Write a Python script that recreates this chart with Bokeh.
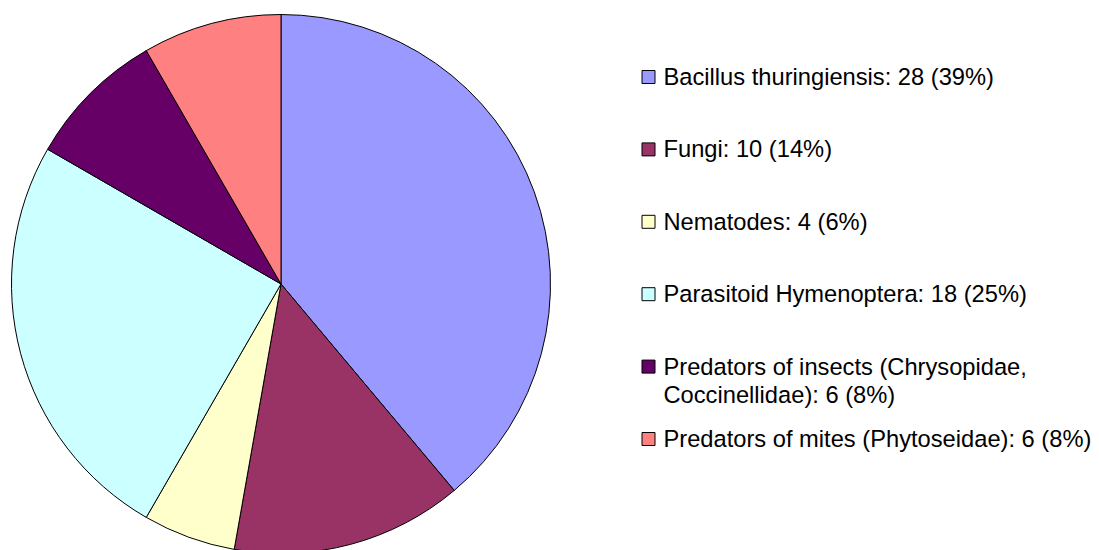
import numpy as np
from bokeh.plotting import figure
from bokeh.models import Range1d, ColumnDataSource
from bokeh.core.properties import value
from bokeh.embed import file_html
from bokeh.resources import INLINE

categories = ["Bacillus thuringiensis", "Fungi", "Nematodes", "Parasitoid Hymenoptera",
              "Predators of insects (Chrysopidae,\nCoccinellidae)", "Predators of mites (Phytoseidae)"]
counts = [28, 10, 4, 18, 6, 6]
colors = ["#9999FF", "#993366", "#FFFFCC", "#CCFFFF", "#660066", "#FF8080"]

W, H = 1099, 550
# data coords: x = picture x, y = H - picture y
p = figure(width=W, height=H, output_backend="svg", toolbar_location=None,
           x_range=Range1d(0, W), y_range=Range1d(0, H), min_border=0)
p.axis.visible = False
p.grid.visible = False
p.outline_line_color = None
p.background_fill_color = "white"
p.border_fill_color = "white"

total = sum(counts)
cum = np.concatenate([[0], np.cumsum(counts)])
start = np.pi / 2 - 2 * np.pi * cum[:-1] / total
end = np.pi / 2 - 2 * np.pi * cum[1:] / total

cx, cy, r = 280.5, H - 283.5, 269.5
src = ColumnDataSource(dict(start=start, end=end, color=colors))
p.wedge(x=cx, y=cy, radius=r, start_angle="start", end_angle="end", direction="clock",
        fill_color="color", line_color="black", line_width=1, source=src)

pcts = [round(100 * c / total) for c in counts]
labels = [f"{n}: {c} ({q}%)" for n, c, q in zip(categories, counts, pcts)]
centers = [76.5 + 72.4 * i for i in range(len(categories))]
lsrc = ColumnDataSource(dict(x=[648] * len(centers), y=[H - c for c in centers], color=colors))
p.rect(x="x", y="y", width=13, height=13, fill_color="color", line_color="black",
       line_width=1, source=lsrc)

tx, ty, tt = [], [], []
for c, lab in zip(centers, labels):
    for j, line in enumerate(lab.split("\n")):
        tx.append(663)
        ty.append(H - (c + 0.0 + 28.7 * j))
        tt.append(line)
tsrc = ColumnDataSource(dict(x=tx, y=ty, text=tt))
p.text(x="x", y="y", text="text", text_font=value("Liberation Sans"),
       text_font_size="23.7px", text_baseline="alphabetic", text_align="left",
       text_color="black", source=tsrc)

open("out.html", "w").write(file_html(p, INLINE))
